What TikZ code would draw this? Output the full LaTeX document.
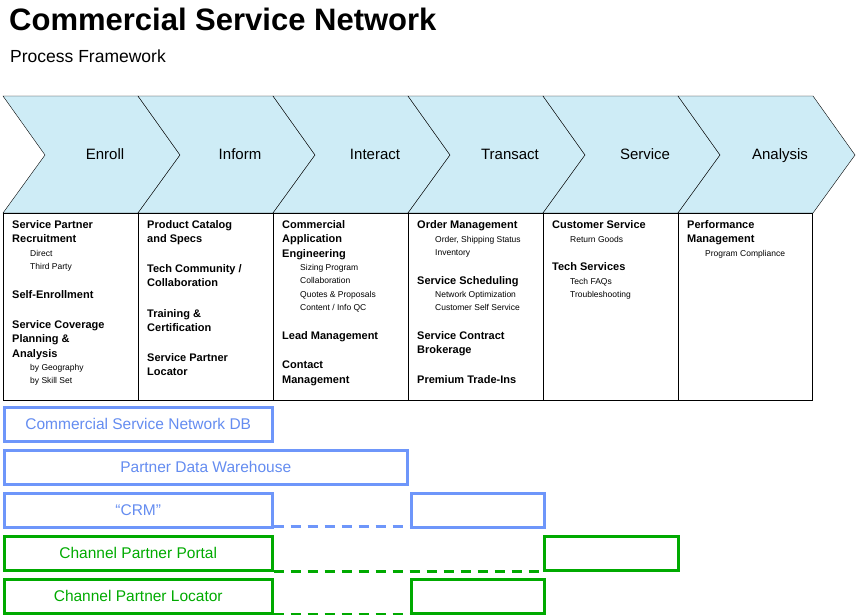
\documentclass[tikz,border=0pt]{standalone}
\usepackage{fontspec}
\setmainfont{Liberation Sans}
\usetikzlibrary{positioning}
\definecolor{chev}{RGB}{206,236,246}
\definecolor{dbblue}{RGB}{110,150,250}
\definecolor{dbtext}{RGB}{100,140,240}
\definecolor{ptgreen}{RGB}{0,170,0}
\tikzset{
  hd/.style={anchor=north west,inner sep=0pt,align=left,font=\fontsize{11}{14.5}\selectfont\bfseries},
  sb/.style={anchor=north west,inner sep=0pt,align=left,font=\fontsize{8.5}{13.5}\selectfont},
  blubar/.style={draw=dbblue,line width=2.5pt,text=dbtext,font=\fontsize{15.5}{18}\selectfont,inner sep=0pt},
  grnbar/.style={draw=ptgreen,line width=2.5pt,text=ptgreen,font=\fontsize{15.5}{18}\selectfont,inner sep=0pt},
  link/.style={line width=2.5pt,dash pattern=on 10pt off 7pt}
}
\begin{document}
\begin{tikzpicture}[x=1pt,y=-1pt]
				\useasboundingbox (0,0) rectangle (858,614);
				
				\node[anchor=north west,inner sep=0pt,font=\fontsize{31}{34}\selectfont\bfseries] (title) at (9,8) {Commercial Service Network};
				\node[anchor=north west,inner sep=0pt,font=\fontsize{17.5}{20}\selectfont] (sub) at (10,50) {Process Framework};
				
				% process chevrons
				\foreach \lbl [count=\i from 0] in {Enroll,Inform,Interact,Transact,Service,Analysis}{
					\draw[fill=chev] (3+135*\i,96) -- (138+135*\i,96) -- (180+135*\i,155) -- (138+135*\i,213) -- (3+135*\i,213) -- (45+135*\i,155) -- cycle;
					\node[font=\fontsize{15}{18}\selectfont,text height=11pt,text depth=3pt] (ch\i) at (105+135*\i,155) {\lbl};
				}
				
				% table
				\draw[line width=1pt] (3,213) rectangle (812,400);
				\foreach \x in {138,273,408,543,678}
					\draw[line width=1pt] (\x,213) -- (\x,400);
				
				\node[hd] (e1) at (12,220) {Service Partner\\Recruitment};
				\node[sb] (e2) at (30,250) {Direct\\Third Party};
				\node[hd] (e3) at (12,290) {Self-Enrollment};
				\node[hd] (e4) at (12,320) {Service Coverage\\Planning \&\\Analysis};
				\node[sb] (e5) at (30,364) {by Geography\\by Skill Set};
				
				\node[hd] (f1) at (147,220) {Product Catalog\\and Specs};
				\node[hd] (f2) at (147,264) {Tech Community /\\Collaboration};
				\node[hd] (f3) at (147,309) {Training \&\\Certification};
				\node[hd] (f4) at (147,353) {Service Partner\\Locator};
				
				\node[hd] (i1) at (282,220) {Commercial\\Application\\Engineering};
				\node[sb] (i2) at (300,264) {Sizing Program\\Collaboration\\Quotes \& Proposals\\Content / Info QC};
				\node[hd] (i3) at (282,331) {Lead Management};
				\node[hd] (i4) at (282,361) {Contact\\Management};
				
				\node[hd] (t1) at (417,220) {Order Management};
				\node[sb] (t2) at (435,236) {Order, Shipping Status\\Inventory};
				\node[hd] (t3) at (417,276) {Service Scheduling};
				\node[sb] (t4) at (435,291) {Network Optimization\\Customer Self Service};
				\node[hd] (t5) at (417,331) {Service Contract\\Brokerage};
				\node[hd] (t6) at (417,375) {Premium Trade-Ins};
				
				\node[hd] (s1) at (552,220) {Customer Service};
				\node[sb] (s2) at (570,236) {Return Goods};
				\node[hd] (s3) at (552,262) {Tech Services};
				\node[sb] (s4) at (570,278) {Tech FAQs\\Troubleshooting};
				
				\node[hd] (a1) at (687,220) {Performance\\Management};
				\node[sb] (a2) at (705,250) {Program Compliance};
				
				% system bars
				\node[blubar,minimum width=268pt,minimum height=34pt,anchor=north west] (csn) at (3,406) {Commercial Service Network DB};
				\node[blubar,minimum width=403pt,minimum height=34pt,anchor=north west] (pdw) at (3,449) {Partner Data Warehouse};
				\node[blubar,minimum width=268pt,minimum height=34pt,anchor=north west] (crm) at (3,492) {``CRM''};
				\node[blubar,minimum width=133pt,minimum height=34pt,anchor=north west] (crmR) at (410,492) {};
				\node[grnbar,minimum width=268pt,minimum height=34pt,anchor=north west] (cpp) at (3,535) {Channel Partner Portal};
				\node[grnbar,minimum width=134pt,minimum height=34pt,anchor=north west] (cppR) at (543,535) {};
				\node[grnbar,minimum width=268pt,minimum height=34pt,anchor=north west] (cpl) at (3,578) {Channel Partner Locator};
				\node[grnbar,minimum width=133pt,minimum height=34pt,anchor=north west] (cplR) at (410,578) {};
				
				\draw[link,dbblue] ([yshift=2pt]crm.south east) -- ([yshift=2pt]crmR.south west);
				\draw[link,ptgreen] (cpp.south east) -- (cppR.south west);
				\draw[link,ptgreen] (cpl.south east) -- (cplR.south west);
				
			\end{tikzpicture}
\end{document}
